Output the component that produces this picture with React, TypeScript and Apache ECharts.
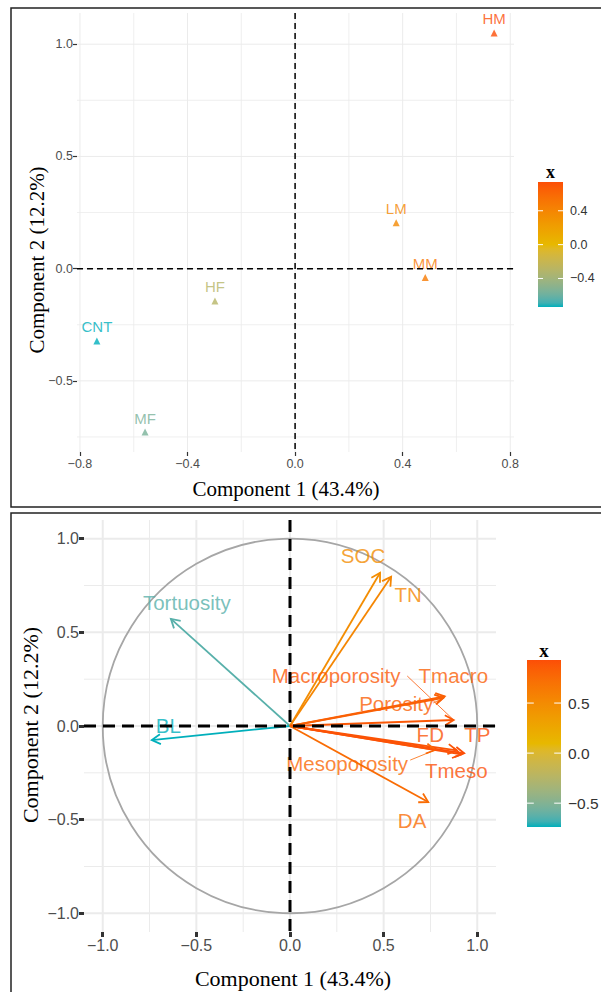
import React, { useEffect, useRef } from "react";
import * as echarts from "echarts";

// ---------- Data ----------
// Top panel: individuals (scores)
const scoreLabels = ["HM", "LM", "MM", "HF", "CNT", "MF"];
const scoreX = [0.74, 0.376, 0.484, -0.298, -0.737, -0.558];
const scoreY = [1.05, 0.204, -0.04, -0.144, -0.322, -0.728];

// Bottom panel: variables (loadings)
const varNames = ["Tortuosity", "BL", "SOC", "TN", "Macroporosity", "Tmacro", "Porosity", "FD", "TP", "Mesoporosity", "Tmeso", "DA"];
const varX = [-0.636, -0.738, 0.481, 0.54, 0.874, 0.826, 0.82, 0.89, 0.93, 0.775, 0.915, 0.738];
const varY = [0.572, -0.075, 0.818, 0.797, 0.032, 0.158, 0.15, -0.13, -0.146, -0.128, -0.152, -0.406];
// repelled label positions (data units)
const varLabelX = [-0.551, -0.65, 0.39, 0.631, 0.246, 0.872, 0.567, 0.749, 1.0, 0.305, 0.888, 0.652];
const varLabelY = [0.658, 0.005, 0.909, 0.7, 0.267, 0.267, 0.118, -0.043, -0.043, -0.198, -0.235, -0.503];
// repel segment start (label side), null = no segment
const segStartX = [null, null, null, null, 0.626, null, 0.765, null, null, 0.642, null, null];
const segStartY = [null, null, null, null, 0.267, null, 0.123, null, null, -0.182, null, null];

// Axis ticks / grid
const topXTicks = [-0.8, -0.4, 0, 0.4, 0.8];
const topXMinor = [-0.6, -0.2, 0.2, 0.6];
const topYTicks = [-0.5, 0, 0.5, 1.0];
const topYMinor = [-0.75, -0.25, 0.25, 0.75];
const botTicks = [-1, -0.5, 0, 0.5, 1];
const botMinor = [-0.75, -0.25, 0.25, 0.75];
const topLegendTicks = [0.4, 0, -0.4];
const botLegendTicks = [0.5, 0, -0.5];

const gradientCols = ["#00AFBB", "#E7B800", "#FC4E07"];

const fontSans = '"Liberation Sans", Arial, sans-serif';
const fontSerif = '"Liberation Serif", "Times New Roman", serif';

const fmt = (v: number) => {
  const s = Math.abs(v).toFixed(1);
  return v < -1e-9 ? "\u2212" + s : s;
};

// ---- CIELAB colour interpolation (as ggplot's gradientn) ----
function hexToRgb(h: string) {
  const n = parseInt(h.slice(1), 16);
  return [(n >> 16) & 255, (n >> 8) & 255, n & 255];
}
function toLab(hex: string) {
  const lin = hexToRgb(hex).map((c) => {
    const v = c / 255;
    return v <= 0.04045 ? v / 12.92 : Math.pow((v + 0.055) / 1.055, 2.4);
  });
  const [r, g, b] = lin;
  const X = (0.4124 * r + 0.3576 * g + 0.1805 * b) / 0.95047;
  const Y = 0.2126 * r + 0.7152 * g + 0.0722 * b;
  const Z = (0.0193 * r + 0.1192 * g + 0.9505 * b) / 1.08883;
  const f = (t: number) => (t > 0.008856 ? Math.cbrt(t) : 7.787 * t + 16 / 116);
  const fx = f(X), fy = f(Y), fz = f(Z);
  return [116 * fy - 16, 500 * (fx - fy), 200 * (fy - fz)];
}
function fromLab(lab: number[]) {
  const fy = (lab[0] + 16) / 116;
  const fx = fy + lab[1] / 500;
  const fz = fy - lab[2] / 200;
  const fi = (t: number) => (t * t * t > 0.008856 ? t * t * t : (t - 16 / 116) / 7.787);
  const X = fi(fx) * 0.95047, Y = fi(fy), Z = fi(fz) * 1.08883;
  const r = 3.2406 * X - 1.5372 * Y - 0.4986 * Z;
  const g = -0.9689 * X + 1.8758 * Y + 0.0415 * Z;
  const b = 0.0557 * X - 0.204 * Y + 1.057 * Z;
  const out = [r, g, b].map((v) => {
    const c = v <= 0.0031308 ? 12.92 * v : 1.055 * Math.pow(v, 1 / 2.4) - 0.055;
    return Math.round(Math.max(0, Math.min(1, c)) * 255);
  });
  return `rgb(${out[0]},${out[1]},${out[2]})`;
}
const labCols = gradientCols.map(toLab);
function rampColor(t: number) {
  const tt = Math.max(0, Math.min(1, t));
  const seg = tt < 0.5 ? 0 : 1;
  const lt = tt < 0.5 ? tt / 0.5 : (tt - 0.5) / 0.5;
  const a = labCols[seg], b = labCols[seg + 1];
  return fromLab([a[0] + (b[0] - a[0]) * lt, a[1] + (b[1] - a[1]) * lt, a[2] + (b[2] - a[2]) * lt]);
}
function colorFor(v: number, min: number, max: number) {
  return rampColor((v - min) / (max - min));
}

function gridSeries(idx: number, xMaj: number[], xMin: number[], yMaj: number[], yMin: number[], majW: number, minW: number) {
  const data: number[][] = [];
  xMin.forEach((v) => data.push([0, v, 0]));
  yMin.forEach((v) => data.push([1, v, 0]));
  xMaj.forEach((v) => data.push([0, v, 1]));
  yMaj.forEach((v) => data.push([1, v, 1]));
  return {
    type: "custom",
    xAxisIndex: idx,
    yAxisIndex: idx,
    z: 0,
    silent: true,
    data,
    renderItem: (params: any, api: any) => {
      const t = api.value(0), v = api.value(1), maj = api.value(2);
      const cs = params.coordSys;
      const w = maj ? majW : minW;
      if (t === 0) {
        const p = api.coord([v, 0]);
        return { type: "line", shape: { x1: p[0], y1: cs.y, x2: p[0], y2: cs.y + cs.height }, style: { stroke: "#ebebeb", lineWidth: w } };
      }
      const p = api.coord([0, v]);
      return { type: "line", shape: { x1: cs.x, y1: p[1], x2: cs.x + cs.width, y2: p[1] }, style: { stroke: "#ebebeb", lineWidth: w } };
    },
  };
}

function zeroLines(idx: number, width: number, dash: number[]) {
  return {
    type: "custom",
    xAxisIndex: idx,
    yAxisIndex: idx,
    z: 10,
    silent: true,
    data: [[0, 0], [1, 0]],
    renderItem: (params: any, api: any) => {
      const t = api.value(0);
      const cs = params.coordSys;
      const p = api.coord([0, 0]);
      const shape = t === 0
        ? { x1: p[0], y1: cs.y, x2: p[0], y2: cs.y + cs.height }
        : { x1: cs.x, y1: p[1], x2: cs.x + cs.width, y2: p[1] };
      return { type: "line", shape, style: { stroke: "#000", lineWidth: width, lineDash: dash } };
    },
  };
}

function colorbar(x: number, y: number, w: number, h: number, min: number, max: number, ticks: number[], fs: number, tfs: number) {
  const els: any[] = [];
  els.push({
    type: "text", x: x + w / 2, y: y - 10,
    style: { text: "x", font: `bold ${tfs}px ${fontSerif}`, fill: "#000", align: "center", verticalAlign: "middle" },
  });
  const stops: any[] = [];
  for (let i = 0; i <= 30; i++) stops.push({ offset: i / 30, color: rampColor(i / 30) });
  els.push({
    type: "rect", shape: { x, y, width: w, height: h },
    style: { fill: { type: "linear", x: 0, y: 1, x2: 0, y2: 0, colorStops: stops } },
  });
  ticks.forEach((t) => {
    const ty = y + h - ((t - min) / (max - min)) * h;
    els.push({ type: "line", shape: { x1: x, y1: ty, x2: x + w / 5, y2: ty }, style: { stroke: "#fff", lineWidth: 1 } });
    els.push({ type: "line", shape: { x1: x + w - w / 5, y1: ty, x2: x + w, y2: ty }, style: { stroke: "#fff", lineWidth: 1 } });
    els.push({
      type: "text", x: x + w + 7, y: ty,
      style: { text: fmt(t), font: `${fs}px ${fontSans}`, fill: "#333", align: "left", verticalAlign: "middle" },
    });
  });
  return els;
}

export default function App() {
  const ref = useRef<HTMLDivElement>(null);

  useEffect(() => {
    if (!ref.current) return;
    const chart = echarts.init(ref.current, undefined, { renderer: "svg" });

    const sMin = Math.min(...scoreX), sMax = Math.max(...scoreX);
    const vMin = Math.min(...varX), vMax = Math.max(...varX);

    const axisCommon = (ticks: number[], fs: number, tickW: number, tickLen: number, margin: number) => ({
      type: "value",
      axisLine: { show: false, onZero: false },
      splitLine: { show: false },
      axisTick: { show: true, customValues: ticks, length: tickLen, lineStyle: { color: "#333", width: tickW } },
      axisLabel: { customValues: ticks, formatter: (v: number) => fmt(v), color: "#4d4d4d", fontSize: fs, fontFamily: fontSans, margin },
    });

    const option: any = {
      animation: false,
      backgroundColor: "#fff",
      grid: [
        { left: 77, top: 13, width: 437, height: 439 },
        { left: 84, top: 520, width: 412, height: 412 },
      ],
      xAxis: [
        { ...axisCommon(topXTicks, 12.5, 1.2, 4, 5), gridIndex: 0, min: -0.811, max: 0.814 },
        { ...axisCommon(botTicks, 16, 3, 5, 5), gridIndex: 1, min: -1.1, max: 1.1 },
      ],
      yAxis: [
        { ...axisCommon(topYTicks, 12.5, 1.2, 4, 4), gridIndex: 0, min: -0.817, max: 1.139 },
        { ...axisCommon(botTicks, 16, 3, 5, 5), gridIndex: 1, min: -1.1, max: 1.1 },
      ],
      series: [
        gridSeries(0, topXTicks, topXMinor, topYTicks, topYMinor, 1, 0.8),
        gridSeries(1, botTicks, botMinor, botTicks, botMinor, 2, 1),
        // top: individuals
        {
          type: "scatter",
          xAxisIndex: 0,
          yAxisIndex: 0,
          z: 5,
          symbol: "triangle",
          symbolSize: 7,
          data: scoreX.map((x, i) => {
            const c = colorFor(x, sMin, sMax);
            return {
              value: [x, scoreY[i]],
              name: scoreLabels[i],
              itemStyle: { color: c },
              label: { color: c },
            };
          }),
          label: {
            show: true,
            position: "top",
            distance: 3,
            formatter: (p: any) => p.name,
            fontSize: 15,
            fontFamily: fontSans,
          },
        },
        // bottom: circle
        {
          type: "custom",
          xAxisIndex: 1,
          yAxisIndex: 1,
          z: 2,
          silent: true,
          data: [[0, 0]],
          renderItem: (params: any, api: any) => {
            const c = api.coord([0, 0]);
            const r = api.coord([1, 0])[0] - c[0];
            return { type: "circle", shape: { cx: c[0], cy: c[1], r }, style: { fill: "none", stroke: "#a6a6a6", lineWidth: 1.8 } };
          },
        },
        // bottom: arrows
        {
          type: "custom",
          xAxisIndex: 1,
          yAxisIndex: 1,
          z: 5,
          silent: true,
          data: varX.map((x, i) => [x, varY[i]]),
          renderItem: (params: any, api: any) => {
            const x = api.value(0), y = api.value(1);
            const p0 = api.coord([0, 0]);
            const p1 = api.coord([x, y]);
            const ang = Math.atan2(p1[1] - p0[1], p1[0] - p0[0]);
            const L = 10, a = Math.PI / 6;
            const h1 = [p1[0] - L * Math.cos(ang - a), p1[1] - L * Math.sin(ang - a)];
            const h2 = [p1[0] - L * Math.cos(ang + a), p1[1] - L * Math.sin(ang + a)];
            const color = colorFor(x, vMin, vMax);
            return {
              type: "group",
              children: [
                { type: "line", shape: { x1: p0[0], y1: p0[1], x2: p1[0], y2: p1[1] }, style: { stroke: color, lineWidth: 1.8 } },
                { type: "polyline", shape: { points: [h1, p1, h2] }, style: { stroke: color, lineWidth: 1.8, fill: "none" } },
              ],
            };
          },
        },
        // bottom: repel segments
        {
          type: "custom",
          xAxisIndex: 1,
          yAxisIndex: 1,
          z: 5,
          silent: true,
          data: varX
            .map((x, i) => (segStartX[i] === null ? null : [segStartX[i], segStartY[i], x, varY[i]]))
            .filter((d) => d !== null),
          renderItem: (params: any, api: any) => {
            const a = api.coord([api.value(0), api.value(1)]);
            const b = api.coord([api.value(2), api.value(3)]);
            const color = colorFor(api.value(2), vMin, vMax);
            return { type: "line", shape: { x1: a[0], y1: a[1], x2: b[0], y2: b[1] }, style: { stroke: color, lineWidth: 0.8 } };
          },
        },
        // bottom: variable labels
        {
          type: "scatter",
          xAxisIndex: 1,
          yAxisIndex: 1,
          z: 6,
          symbolSize: 0,
          silent: true,
          data: varLabelX.map((lx, i) => ({
            value: [lx, varLabelY[i]],
            name: varNames[i],
            label: { color: colorFor(varX[i], vMin, vMax) },
          })),
          label: {
            show: true,
            position: "inside",
            formatter: (p: any) => p.name,
            fontSize: 20.5,
            fontFamily: fontSans,
          },
        },
        zeroLines(0, 1.5, [6, 4]),
        zeroLines(1, 3, [12, 7]),
      ],
      graphic: [
        { type: "rect", shape: { x: 11, y: 8, width: 700, height: 499 }, style: { fill: "none", stroke: "#222", lineWidth: 1.5 }, z: 100 },
        { type: "rect", shape: { x: 11, y: 513, width: 700, height: 600 }, style: { fill: "none", stroke: "#222", lineWidth: 1.5 }, z: 100 },
        {
          type: "text", x: 286, y: 489,
          style: { text: "Component 1 (43.4%)", font: `21px ${fontSerif}`, fill: "#000", align: "center", verticalAlign: "middle" },
        },
        {
          type: "text", x: 37, y: 260, rotation: Math.PI / 2,
          style: { text: "Component 2 (12.2%)", font: `21px ${fontSerif}`, fill: "#000", align: "center", verticalAlign: "middle" },
        },
        {
          type: "text", x: 293, y: 978,
          style: { text: "Component 1 (43.4%)", font: `22px ${fontSerif}`, fill: "#000", align: "center", verticalAlign: "middle" },
        },
        {
          type: "text", x: 30, y: 725, rotation: Math.PI / 2,
          style: { text: "Component 2 (12.2%)", font: `22px ${fontSerif}`, fill: "#000", align: "center", verticalAlign: "middle" },
        },
        ...colorbar(538, 182, 25, 125, sMin, sMax, topLegendTicks, 12.5, 18),
        ...colorbar(527, 660, 34, 167, vMin, vMax, botLegendTicks, 15.5, 19),
      ],
    };

    chart.setOption(option);
    return () => chart.dispose();
  }, []);

  return (
    <div
      ref={ref}
      style={{ position: "absolute", left: 0, top: 0, width: 601, height: 992, background: "#fff" }}
    />
  );
}
